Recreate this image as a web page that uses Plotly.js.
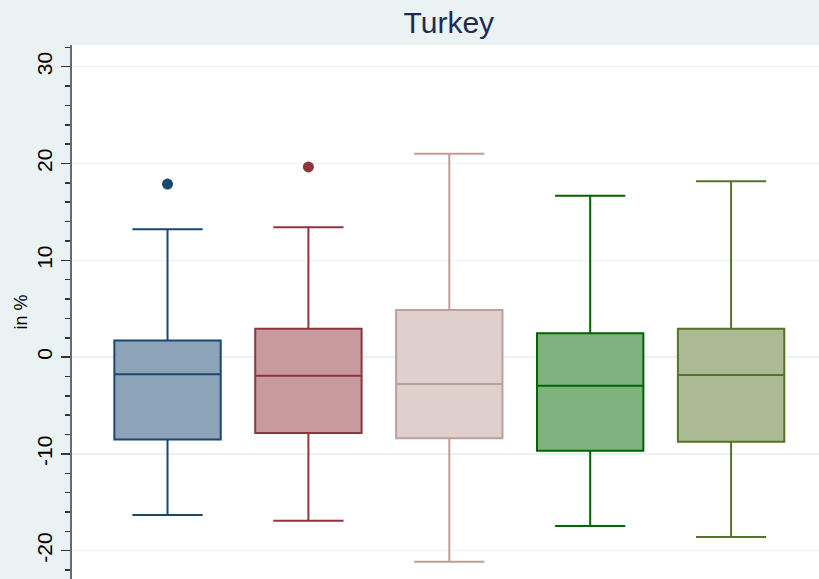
<!DOCTYPE html>
<html>
<head>
<meta charset="utf-8">
<script src="https://cdn.plot.ly/plotly-3.0.1.min.js"></script>
<style>
  html, body { margin: 0; padding: 0; background: #EAF2F3; }
  #chart { width: 819px; height: 579px; }
</style>
</head>
<body>
<div id="chart"></div>
<script>
// Five groups of returns (in %), summarised as box statistics
const groups      = ['Group 1', 'Group 2', 'Group 3', 'Group 4', 'Group 5'];
const lowerFence  = [-16.31, -16.90, -21.14, -17.45, -18.58];
const q1          = [-8.51,  -7.84,  -8.39,  -9.67,  -8.74];
const median      = [-1.78,  -1.92,  -2.78,  -2.95,  -1.85];
const q3          = [1.71,   2.93,   4.87,   2.46,   2.93];
const upperFence  = [13.20,  13.41,  21.01,  16.67,  18.16];

// Outside values: group index and value
const outlierGroup = [0, 1];
const outlierValue = [17.88, 19.64];

// Y axis ticks
const yTickVals  = [-20, -10, 0, 10, 20, 30];
const yTickText  = ['-20', '-10', '0', '10', '20', '30'];

// Line and fill colours per group
const lineColors = ['#1A476F', '#90353B', '#BF9F9B', '#006400', '#57732A'];
const fillColors = ['#8DA3B7', '#C79A9D', '#DFCFCD', '#7FB27F', '#ABB994'];

const traces = groups.map((g, i) => ({
  type: 'box',
  name: g,
  x: [i],
  q1: [q1[i]],
  median: [median[i]],
  q3: [q3[i]],
  lowerfence: [lowerFence[i]],
  upperfence: [upperFence[i]],
  width: 0.755,
  whiskerwidth: 0.66,
  boxpoints: false,
  line: { color: lineColors[i], width: 2 },
  fillcolor: fillColors[i],
  hoverinfo: 'y',
  showlegend: false
}));

outlierGroup.forEach((gi, k) => {
  traces.push({
    type: 'scatter',
    mode: 'markers',
    x: [gi],
    y: [outlierValue[k]],
    marker: { color: lineColors[gi], size: 11 },
    showlegend: false,
    hoverinfo: 'y'
  });
});

const layout = {
  width: 819,
  height: 579,
  paper_bgcolor: '#EAF2F3',
  plot_bgcolor: '#FFFFFF',
  margin: { l: 72, r: 0, t: 45, b: 0, pad: 0 },
  font: { family: 'Liberation Sans, Arial, sans-serif', color: '#000000' },
  title: {
    text: 'Turkey',
    font: { size: 30, color: '#1E2D4F', family: 'Liberation Sans, Arial, sans-serif' },
    xref: 'container', x: 0.548, xanchor: 'center',
    yref: 'container', y: 0.962, yanchor: 'middle'
  },
  boxmode: 'overlay',
  xaxis: {
    visible: false,
    range: [-0.678, 4.624],
    fixedrange: true
  },
  yaxis: {
    range: [-22.92, 32.24],
    tickmode: 'array',
    tickvals: yTickVals,
    ticktext: yTickText,
    tickangle: -90,
    tickfont: { size: 21, color: '#000000' },
    ticks: 'outside',
    ticklen: 9,
    tickwidth: 1.5,
    tickcolor: '#333333',
    ticklabelstandoff: 1,
    showline: true,
    linecolor: '#6A6A6A',
    linewidth: 2,
    showgrid: true,
    gridcolor: '#EAF2F3',
    gridwidth: 1.5,
    zeroline: false,
    minor: {
      tickmode: 'linear',
      tick0: 0,
      dtick: 2,
      ticks: 'outside',
      ticklen: 5,
      tickwidth: 1.5,
      tickcolor: '#333333',
      showgrid: false
    },
    title: {
      text: 'in %',
      font: { size: 18, color: '#000000' },
      standoff: 0
    }
  }
};

Plotly.newPlot('chart', traces, layout, { displayModeBar: false, staticPlot: true });
</script>
</body>
</html>
